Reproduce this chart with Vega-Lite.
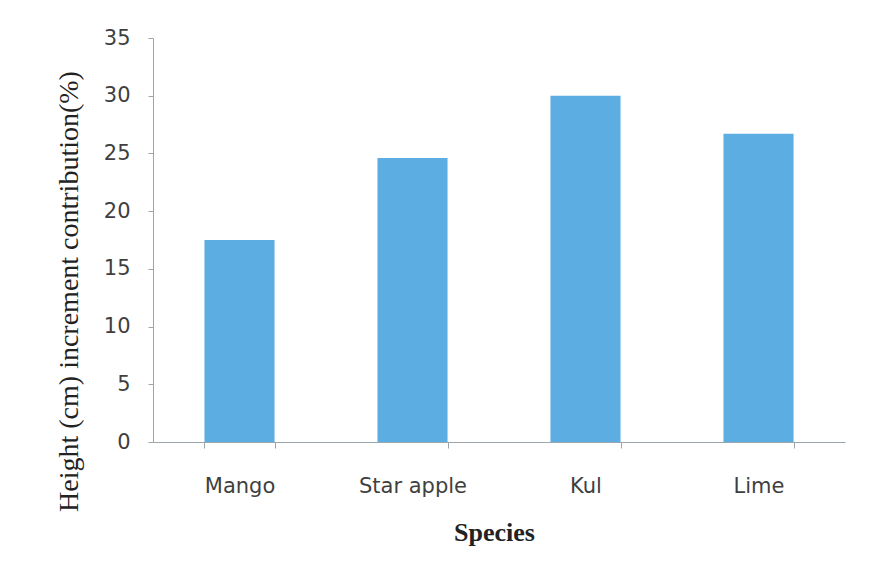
{
  "$schema": "https://vega.github.io/schema/vega-lite/v6.json",
  "autosize": "none",
  "width": 692,
  "height": 404,
  "padding": {"left": 153, "top": 38, "right": 26, "bottom": 136},
  "background": "#ffffff",
  "config": {
    "view": {"stroke": null},
    "axis": {
      "grid": false,
      "domainColor": "#9aa6ab",
      "domainWidth": 1,
      "tickColor": "#9aa6ab",
      "tickWidth": 1,
      "labelFont": "DejaVu Sans",
      "labelFontSize": 21,
      "labelColor": "#3f3f3f",
      "titleColor": "#222222"
    }
  },
  "data": {
    "values": [
      {"species": "Mango", "contribution": 17.5},
      {"species": "Star apple", "contribution": 24.6},
      {"species": "Kul", "contribution": 30.0},
      {"species": "Lime", "contribution": 26.7}
    ]
  },
  "mark": {"type": "bar", "color": "#5CADE2"},
  "encoding": {
    "x": {
      "field": "species",
      "type": "nominal",
      "sort": null,
      "scale": {"paddingInner": 0.595, "paddingOuter": 0.2975},
      "axis": {
        "title": "Species",
        "titleFont": "Liberation Serif",
        "titleFontSize": 26,
        "titleFontWeight": "bold",
        "titleBaseline": "alphabetic",
        "titleX": 341,
        "titleY": 98,
        "labelAngle": 0,
        "labelBaseline": "alphabetic",
        "labelPadding": 44,
        "tickBand": "extent",
        "tickSize": 6
      }
    },
    "y": {
      "field": "contribution",
      "type": "quantitative",
      "scale": {"domain": [0, 35]},
      "axis": {
        "title": "Height (cm) increment contribution(%)",
        "titleFont": "Liberation Serif",
        "titleFontSize": 28,
        "titleFontWeight": "normal",
        "titleBaseline": "alphabetic",
        "titleX": -76,
        "titleY": 253,
        "values": [0, 5, 10, 15, 20, 25, 30, 35],
        "tickSize": 5,
        "labelPadding": 18
      }
    }
  }
}
